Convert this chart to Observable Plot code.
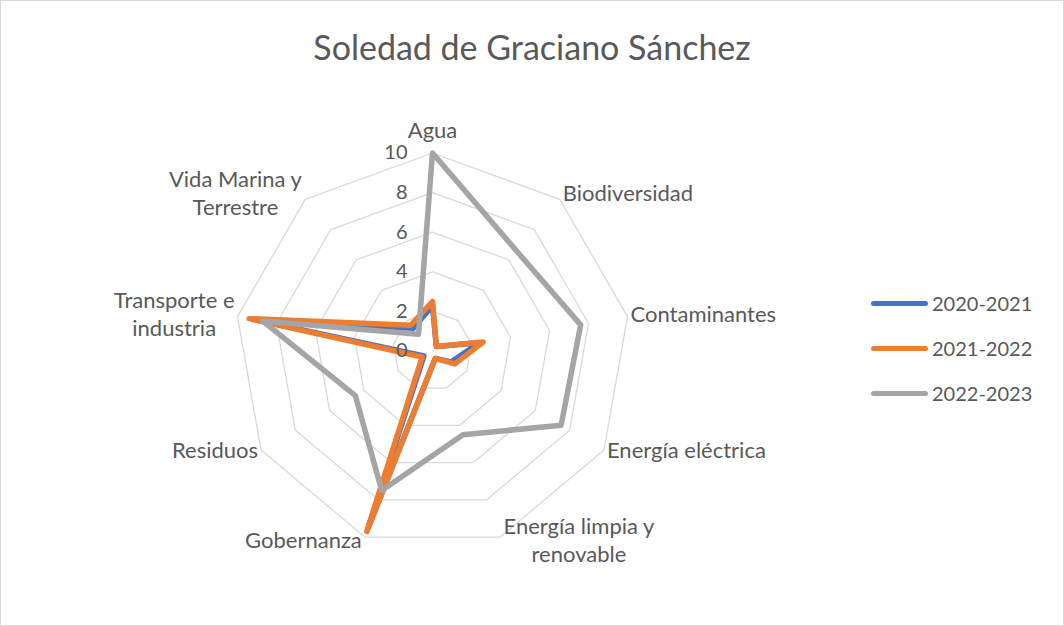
<!DOCTYPE html>
<html><head><meta charset="utf-8">
<script src="https://cdn.jsdelivr.net/npm/d3@7"></script>
<script src="https://cdn.jsdelivr.net/npm/@observablehq/plot@0.6"></script>
<style>
body{margin:0;background:#fff;}
#wrap{position:relative;width:1064px;height:626px;box-sizing:border-box;border:1px solid #d9d9d9;font-family:Lato,sans-serif;color:#595959;background:#fff;overflow:hidden;}
#title{height:85px;box-sizing:border-box;padding-top:28px;font-size:34px;line-height:36px;text-align:center;}
#legend{position:absolute;left:870px;top:0;}
.row{position:absolute;left:0;height:26px;display:flex;align-items:center;white-space:nowrap;font-size:20px;}
.sw{width:57px;height:5px;border-radius:3px;margin-right:4px;}
svg{display:block;}
</style>
</head><body>
<div id="wrap"><div id="title">Soledad de Graciano Sánchez</div><div id="chart"></div><div id="legend"></div></div>
<script>
const categories = ["Agua","Biodiversidad","Contaminantes","Energía eléctrica","Energía limpia y renovable","Gobernanza","Residuos","Transporte e industria","Vida Marina y Terrestre"];
const categoryLabels = ["Agua","Biodiversidad","Contaminantes","Energía eléctrica","Energía limpia y\nrenovable","Gobernanza","Residuos","Transporte e\nindustria","Vida Marina y\nTerrestre"];
const seriesNames = ["2020-2021","2021-2022","2022-2023"];
const values2020 = [2.3, 0.3, 2.4, 1.1, 0.4, 9.5, 0.5, 9.2, 1.5];
const values2021 = [2.5, 0.3, 2.6, 1.3, 0.4, 9.7, 0.6, 9.4, 1.7];
const values2022 = [10, 6.6, 7.6, 7.5, 4.5, 7.5, 4.5, 8.7, 1.1];
const seriesColors = ["#4472C4","#ED7D31","#A5A5A5"];
const tickValues = [0, 2, 4, 6, 8, 10];

const W = 1062, H = 539;
const cx = 431, cy = 264.5;   // centre in svg px
const k = 19.8;               // px per unit
const n = categories.length;
const ang = i => 2 * Math.PI * i / n;
const labelFont = 22;

const xDomain = [-cx / k, (W - cx) / k];
const yDomain = [-(H - cy) / k, cy / k];

const rings = tickValues.filter(t => t > 0).flatMap(t => categories.map((c, i) => ({t, x: t * Math.sin(ang(i)), y: t * Math.cos(ang(i))})));
const allSeries = [values2020, values2021, values2022];
const seriesPts = allSeries.map((vals, s) => vals.map((v, i) => ({series: seriesNames[s], x: v * Math.sin(ang(i)), y: v * Math.cos(ang(i))})));

// label placement
const ctx = document.createElement("canvas").getContext("2d");
ctx.font = labelFont + "px Lato";
const labelData = categoryLabels.map((lab, i) => {
  const a = ang(i), s = Math.sin(a), c = Math.cos(a);
  const w = Math.max(...lab.split("\n").map(l => ctx.measureText(l).width));
  const vx = 10 * s, vy = 10 * c;
  let x, y;
  if (Math.abs(s) < 0.1) { x = vx; y = vy + 24 / k; }
  else { x = vx + Math.sign(s) * (w / 2 + 3) / k; y = vy + (3 + 5 * c) / k; }
  return {lab, x, y};
});

const plot = Plot.plot({
  width: W, height: H, margin: 0,
  x: {domain: xDomain, axis: null},
  y: {domain: yDomain, axis: null},
  style: {fontFamily: "Lato, sans-serif", background: "transparent", color: "#595959"},
  marks: [
    Plot.line(rings, {x: "x", y: "y", z: "t", curve: "linear-closed", stroke: "#d9d9d9", strokeWidth: 1.3}),
    ...seriesPts.map((pts, s) => Plot.line(pts, {x: "x", y: "y", curve: "linear-closed", stroke: seriesColors[s], strokeWidth: 5.5, strokeLinejoin: "round"})),
    Plot.text(tickValues, {x: d => 0, y: d => d, text: d => String(d), textAnchor: "end", lineAnchor: "middle", dx: -25, fontSize: 20, fill: "#595959"}),
    Plot.text(labelData, {x: "x", y: "y", text: "lab", textAnchor: "middle", lineAnchor: "middle", lineHeight: 1.27, fontSize: labelFont, fill: "#595959"})
  ]
});
document.getElementById("chart").appendChild(plot);

const legendY = [303, 348, 393];
const leg = document.getElementById("legend");
seriesNames.forEach((name, s) => {
  const row = document.createElement("div");
  row.className = "row";
  row.style.top = (legendY[s] - 14) + "px";
  const sw = document.createElement("div");
  sw.className = "sw"; sw.style.background = seriesColors[s];
  const t = document.createElement("span"); t.textContent = name;
  row.appendChild(sw); row.appendChild(t);
  leg.appendChild(row);
});
</script>
</body></html>
